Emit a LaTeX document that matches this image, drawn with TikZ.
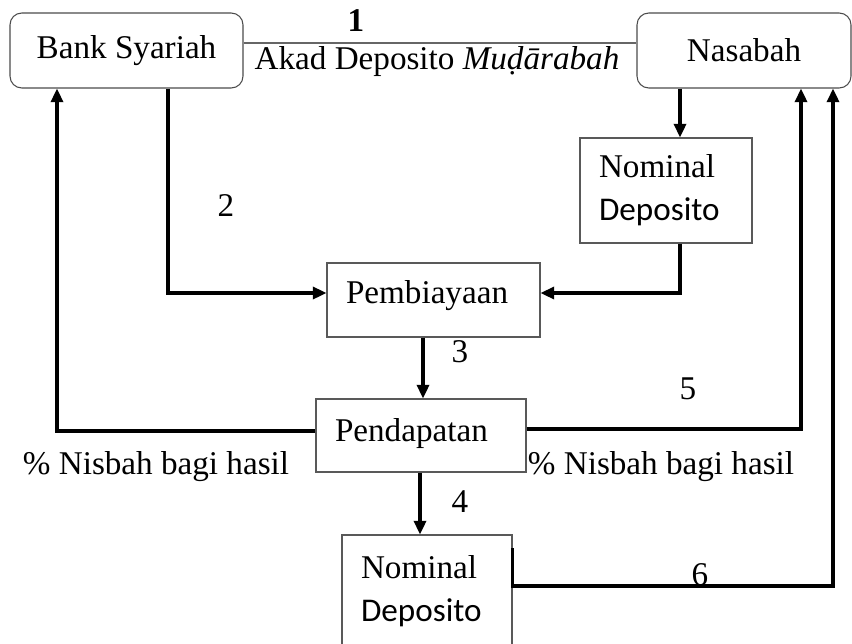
\documentclass[tikz,border=0pt]{standalone}
\usepackage{fontspec}
\setmainfont{Liberation Serif}
\newfontfamily\calibri{Carlito}
\usetikzlibrary{positioning,arrows.meta}

\newcommand\px{0.38pt}

\begin{document}
\begin{tikzpicture}[x=0.38pt, y=-0.38pt,
          font=\fontsize{12.6}{16.3}\selectfont,
          party/.style={rectangle, draw=black!70, rounded corners=4.5pt,
              minimum height=75*\px, align=center},
          box/.style={rectangle, draw=black!65, align=left,
              inner xsep=19*\px},
          arr/.style={-{Triangle[length=5.2pt,width=4.6pt]}, line width=1.2pt},
          lbl/.style={inner sep=0pt}
        ]
        \useasboundingbox (0,0) rectangle (852,643);
        \node[party, minimum width=233*\px] (bank)    at (126.5,50.5) {Bank Syariah};
        \node[party, minimum width=214*\px] (nasabah) at (744,50.5)   {Nasabah};
        \node[box, text width=134*\px, minimum height=105*\px] (nom1) at (666,190.5)
            {Nominal\\{\calibri Deposito}};
        \node[box, text width=175*\px, minimum height=74*\px, text depth=16*\px]
            (pemb) at (433.5,300) {Pembiayaan};
        \node[box, text width=172*\px, minimum height=73*\px, text depth=12*\px]
            (pend) at (421,435.5) {Pendapatan};
        \node[box, text width=132*\px, minimum height=113*\px] (nom2) at (427,591.5)
            {Nominal\\{\calibri Deposito}};
        % guide lines for the connectors
        \coordinate (gTop) at (0,43);
        \coordinate (gA)   at (680,0);
        \coordinate (gB)   at (168,0);
        \coordinate (gC)   at (423,0);
        \coordinate (gD)   at (420,0);
        \coordinate (gL)   at (57,0);
        \coordinate (gR)   at (801,0);
        \coordinate (gF)   at (833,0);
        \coordinate (gM)   at (0,293);
        \coordinate (gP)   at (0,431);
        \coordinate (gQ)   at (0,429);
        \coordinate (gS)   at (0,548);
        \coordinate (gU)   at (0,586);
        \draw[black!60, line width=0.5pt] (bank.east |- gTop) -- (nasabah.west |- gTop);
        \draw[arr] (nasabah.south -| gA) -- (nom1.north -| gA);
        \draw[arr] (nom1.south -| gA) |- (pemb.east |- gM);
        \draw[arr] (bank.south -| gB) |- (pemb.west |- gM);
        \draw[arr] (pemb.south -| gC) -- (pend.north -| gC);
        \draw[arr] (pend.west |- gP) -| (bank.south -| gL);
        \draw[arr] (pend.east |- gQ) -| (nasabah.south -| gR);
        \draw[arr] (pend.south -| gD) -- (nom2.north -| gD);
        \draw[arr] (nom2.east |- gS) -- (nom2.east |- gU) -| (nasabah.south -| gF);
        % labels
        \node[lbl, font=\fontsize{12.6}{16.3}\selectfont\bfseries] (l1) at (356,21) {1};
        \node[lbl] (akad) at (437,62) {Akad Deposito \textit{Muḍārabah}};
        \node[lbl] (l2) at (226,206) {2};
        \node[lbl] (l3) at (460,352) {3};
        \node[lbl] (l4) at (460,502) {4};
        \node[lbl] (l5) at (688,389) {5};
        \node[lbl] (l6) at (700,575) {6};
        \node[lbl] (nisL) at (156,467) {\% Nisbah bagi hasil};
        \node[lbl] (nisR) at (661,467) {\% Nisbah bagi hasil};
      \end{tikzpicture}
\end{document}
